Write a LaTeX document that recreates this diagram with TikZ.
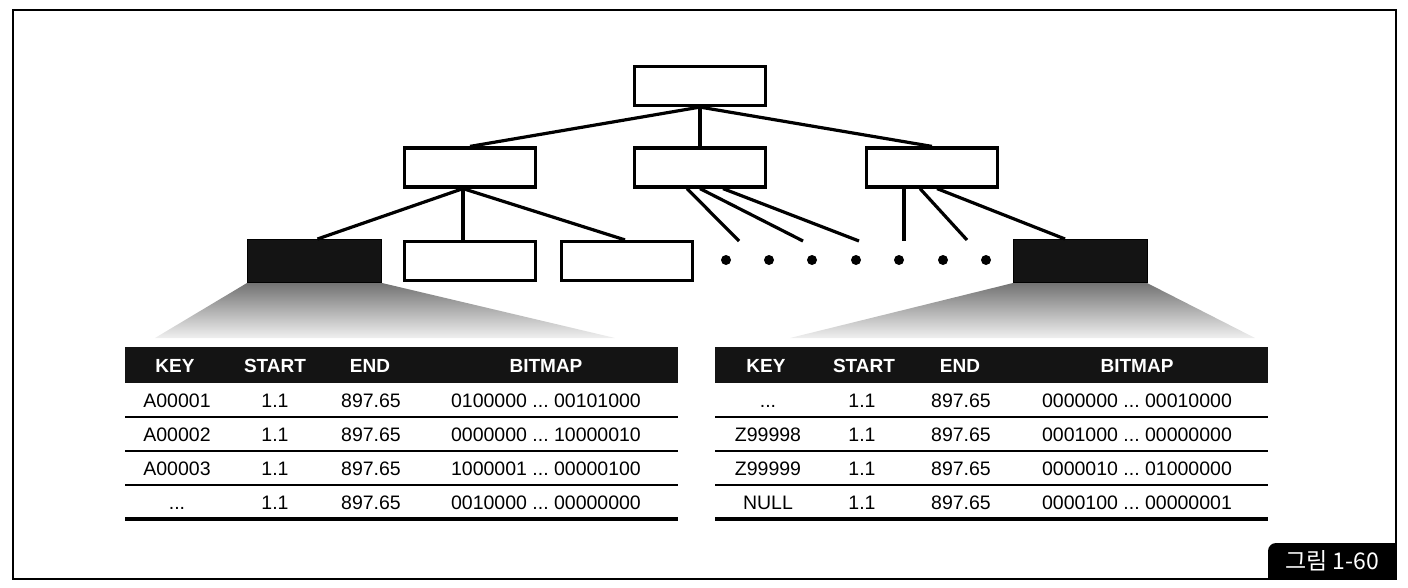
\documentclass[tikz,border=0pt]{standalone}
\usepackage{fontspec}
\setmainfont{Liberation Sans}
\newfontfamily\krfont{Noto Sans CJK KR}
\usetikzlibrary{calc}
\newcommand\mydots{...}
\begin{document}
\begin{tikzpicture}[x=1pt,y=-1pt,
  treebox/.style={draw=black,line width=3.2pt,fill=white,minimum width=131pt,minimum height=39pt,inner sep=0pt},
  leafdark/.style={draw=black,fill=black!92,line width=1pt,minimum width=134pt,minimum height=43pt,inner sep=0pt},
  link/.style={line width=3.2pt},
  dotmark/.style={circle,fill=black,inner sep=0pt,minimum size=10pt},
  hdr/.style={text=white,font=\bfseries\fontsize{19}{21}\selectfont,inner sep=0pt,anchor=base},
  cell/.style={font=\fontsize{19.5}{21}\selectfont,inner sep=0pt,anchor=base},
  hdrbar/.style={fill=black!92},
  thinrule/.style={line width=1.6pt},
  thickrule/.style={line width=3.4pt},
  fan/.style={top color=black!55,bottom color=black!6},
  frameline/.style={line width=1.8pt}
]
\useasboundingbox (0,0) rectangle (1408,588);
\draw[frameline] (13,10) rectangle (1396,579);

% ---- shaded fans
\shade[fan] (247,283) -- (382,283) -- (615,338) -- (155,338) -- cycle;
\shade[fan] (1013,283) -- (1147,283) -- (1255,338) -- (790,338) -- cycle;

% ---- tree nodes
\node[treebox] (root) at (700,86) {};
\node[treebox] (na) at (470,167.5) {};
\node[treebox] (nb) at (700,167.5) {};
\node[treebox] (nc) at (932,167.5) {};
\node[leafdark] (la) at (314.5,261) {};
\node[treebox] (lb) at (470,261) {};
\node[treebox] (lc) at (627,261) {};
\node[leafdark] (ld) at (1080,261) {};

\coordinate (e1) at (739,241);
\coordinate (e2) at (803,241);
\coordinate (e3) at (859,241);
\coordinate (e4) at (904,241);
\coordinate (e5) at (967,240);

\draw[link] (root.south) -- (na.north);
\draw[link] (root.south) -- (nb.north);
\draw[link] (root.south) -- (nc.north);
\draw[link] ($(na.south)+(-7,0)$) -- ($(la.north)+(3,0)$);
\draw[link] ($(na.south)+(-7,0)$) -- ($(lb.north)+(-7,0)$);
\draw[link] ($(na.south)+(-7,0)$) -- ($(lc.north)+(-2,0)$);
\draw[link] ($(nb.south)+(-13,0)$) -- (e1);
\draw[link] (nb.south) -- (e2);
\draw[link] ($(nb.south)+(23,0)$) -- (e3);
\draw[link] (nb.south -| e4) -- (e4);
\draw[link] ($(nc.south)+(-12,0)$) -- (e5);
\draw[link] ($(nc.south)+(5,0)$) -- ($(ld.north)+(-15,0)$);

\foreach \dx [count=\i] in {726,769,812,856,899,943,986}
  \node[dotmark] (dot\i) at (\dx,260) {};

% ---- left table
\fill[hdrbar] (125,347) rectangle (678,383);
\node[hdr] (lhk) at (175,372) {KEY};
\node[hdr] (lhs) at (275,372) {START};
\node[hdr] (lhe) at (370,372) {END};
\node[hdr] (lhb) at (546,372) {BITMAP};
\foreach \yy in {417,451,485} \draw[thinrule] (125,\yy) -- (678,\yy);
\draw[thickrule] (125,519) -- (678,519);
\foreach \k/\ba/\bb [count=\i] in {A00001/0100000/00101000,A00002/0000000/10000010,A00003/1000001/00000100,\mydots/0010000/00000000}{
  \pgfmathsetmacro{\yb}{373+34*\i}
  \node[cell] (lk\i) at (177,\yb) {\k};
  \node[cell] (ls\i) at (275,\yb) {1.1};
  \node[cell] (le\i) at (371,\yb) {897.65};
  \node[cell] (lb\i) at (546,\yb) {\ba\ \mydots\ \bb};
}

% ---- right table
\fill[hdrbar] (715,347) rectangle (1268,383);
\node[hdr] (rhk) at (766,372) {KEY};
\node[hdr] (rhs) at (864,372) {START};
\node[hdr] (rhe) at (960,372) {END};
\node[hdr] (rhb) at (1137,372) {BITMAP};
\foreach \yy in {417,451,485} \draw[thinrule] (715,\yy) -- (1268,\yy);
\draw[thickrule] (715,519) -- (1268,519);
\foreach \k/\ba/\bb [count=\i] in {\mydots/0000000/00010000,Z99998/0001000/00000000,Z99999/0000010/01000000,NULL/0000100/00000001}{
  \pgfmathsetmacro{\yb}{373+34*\i}
  \node[cell] (rk\i) at (768,\yb) {\k};
  \node[cell] (rs\i) at (862,\yb) {1.1};
  \node[cell] (re\i) at (961,\yb) {897.65};
  \node[cell] (rb\i) at (1137,\yb) {\ba\ \mydots\ \bb};
}

% ---- figure label
\fill[black] (1268,579) -- (1268,551) arc[start angle=180,end angle=270,radius=8] -- (1396,543) -- (1396,579) -- cycle;
\node[text=white,font=\krfont\fontsize{23}{25}\selectfont,inner sep=0pt] (figlabel) at (1332,561) {그림 1-60};
\end{tikzpicture}
\end{document}
